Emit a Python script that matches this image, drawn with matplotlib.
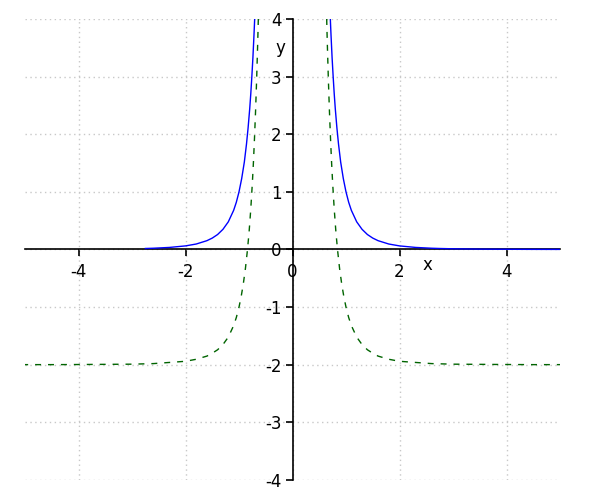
import matplotlib
matplotlib.use('Agg')
import matplotlib.pyplot as plt

plt.rcParams['axes.unicode_minus'] = False

# points (right branch, mirrored for the left one)
blue_x = [0.707, 0.72, 0.74, 0.76, 0.78, 0.8, 0.83, 0.86, 0.9, 0.95, 1.0, 1.05, 1.1,
          1.2, 1.3, 1.4, 1.5, 1.6, 1.8, 2.0, 2.3, 2.6, 2.75, 3.0, 3.5, 4.0, 4.5, 5.0]
blue_y = [4.0, 3.72, 3.33, 3.0, 2.70, 2.44, 2.11, 1.83, 1.52, 1.23, 1.0, 0.82, 0.68,
          0.48, 0.35, 0.26, 0.198, 0.153, 0.095, 0.0625, 0.036, 0.022, 0.0175, 0.0123,
          0.0067, 0.0039, 0.0024, 0.0016]
blue_left_end = 2.75

green_x = [0.639, 0.65, 0.67, 0.69, 0.71, 0.73, 0.75, 0.78, 0.81, 0.84, 0.88, 0.92, 0.96,
           1.0, 1.05, 1.1, 1.2, 1.3, 1.4, 1.5, 1.6, 1.8, 2.0, 2.3, 2.6, 3.0, 3.5, 4.0, 4.5, 5.0]
green_y = [4.0, 3.60, 2.96, 2.41, 1.94, 1.52, 1.16, 0.70, 0.32, 0.01, -0.33, -0.60, -0.82,
           -1.0, -1.18, -1.32, -1.52, -1.65, -1.74, -1.80, -1.85, -1.905, -1.94, -1.96,
           -1.98, -1.99, -1.993, -1.996, -1.998, -1.998]

xticks = [-4, -2, 0, 2, 4]
yticks = [-4, -3, -2, -1, 0, 1, 2, 3, 4]

fig = plt.figure(figsize=(6, 5), dpi=100)
ax = fig.add_axes([25/600, 20/500, 535/600, 461/500])

# right branches
ax.plot(blue_x, blue_y, color='blue', lw=1, zorder=3)
ax.plot(green_x, green_y, color='darkgreen', lw=1, ls=(0, (4.3, 5)), zorder=3)

# left branches
bl = [(-x, y) for x, y in zip(blue_x, blue_y) if x <= blue_left_end]
ax.plot([p[0] for p in bl], [p[1] for p in bl], color='blue', lw=1, zorder=3)
ax.plot([-x for x in green_x], green_y, color='darkgreen', lw=1, ls=(0, (4.3, 5)), zorder=3)

ax.set_xlim(-5, 5)
ax.set_ylim(-4, 4)

for s in ['top', 'right']:
    ax.spines[s].set_visible(False)
ax.spines['left'].set_position(('data', 0))
ax.spines['bottom'].set_position(('data', 0))
ax.spines['left'].set_linewidth(1.2)
ax.spines['bottom'].set_linewidth(1.2)

ax.set_xticks(xticks)
ax.set_yticks(yticks)
ax.tick_params(axis='both', direction='out', length=5, width=1.2, labelsize=12)
ax.tick_params(axis='x', pad=5)
ax.tick_params(axis='y', pad=3)

ax.grid(True, ls=(0, (1, 2.5)), color='#c8c8c8', lw=1)

fig.text(427/600, 1 - 265/500, 'x', fontsize=12, ha='center', va='center')
fig.text(280/600, 1 - 48/500, 'y', fontsize=12, ha='center', va='center')

fig.savefig('out.png', dpi=100)
